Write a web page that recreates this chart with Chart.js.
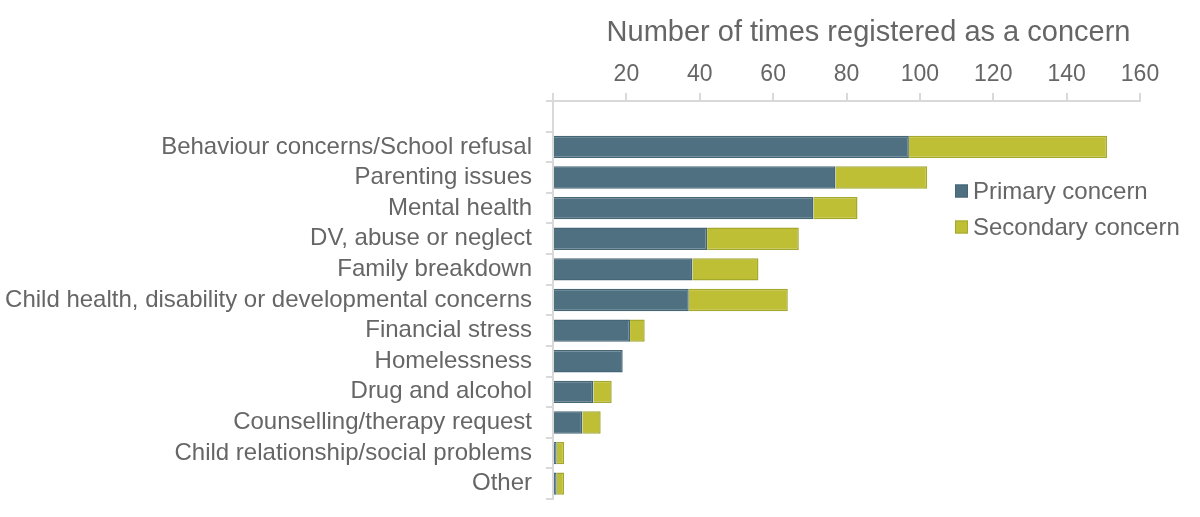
<!DOCTYPE html>
<html>
<head>
<meta charset="utf-8">
<script src="https://cdn.jsdelivr.net/npm/chart.js@4"></script>
<style>
  html, body { margin: 0; padding: 0; background: #fff; }
  #wrap { width: 1200px; height: 517px; }
</style>
</head>
<body>
<div id="wrap"><canvas id="concerns" width="1200" height="517"></canvas></div>
<script>
// blank first row keeps the empty band under the top axis, as in the original
const categories = [
  "",
  "Behaviour concerns/School refusal",
  "Parenting issues",
  "Mental health",
  "DV, abuse or neglect",
  "Family breakdown",
  "Child health, disability or developmental concerns",
  "Financial stress",
  "Homelessness",
  "Drug and alcohol",
  "Counselling/therapy request",
  "Child relationship/social problems",
  "Other"
];
const primaryConcern = [null, 97, 77, 71, 42, 38, 37, 21, 19, 11, 8, 1, 1];
const secondaryConcern = [null, 54, 25, 12, 25, 18, 27, 4, null, 5, 5, 2, 2];
const xTicks = [20, 40, 60, 80, 100, 120, 140, 160];
const titleText = "Number of times registered as a concern";

const TEXT = "#666666";
const AXIS = "#d9d9d9";
const FONT = "'Liberation Sans', Arial, sans-serif";

// title + legend drawn by hand so they sit where the original put them
const overlay = {
  id: "overlay",
  afterDraw(chart) {
    const { ctx, chartArea } = chart;
    ctx.save();
    ctx.fillStyle = TEXT;
    ctx.font = "29px " + FONT;
    ctx.textAlign = "center";
    ctx.textBaseline = "middle";
    ctx.fillText(titleText, (chartArea.left + chartArea.right) / 2 + 22, 33);

    ctx.font = "24px " + FONT;
    ctx.textAlign = "left";
    let ly = chartArea.top + 90;
    chart.data.datasets.forEach((ds) => {
      const lx = chartArea.left + 402;
      ctx.fillStyle = ds.backgroundColor;
      ctx.strokeStyle = ds.borderColor;
      ctx.lineWidth = 1;
      ctx.fillRect(lx, ly - 6.5, 13, 13);
      ctx.strokeRect(lx + 0.5, ly - 6, 12, 12);
      ctx.fillStyle = TEXT;
      ctx.fillText(ds.label, lx + 18, ly + 1);
      ly += 36;
    });
    ctx.restore();
  }
};

new Chart(document.getElementById("concerns"), {
  type: "bar",
  data: {
    labels: categories,
    datasets: [
      {
        label: "Primary concern",
        data: primaryConcern,
        backgroundColor: "#4e7080",
        borderColor: "#456676",
        borderWidth: 1.5
      },
      {
        label: "Secondary concern",
        data: secondaryConcern,
        backgroundColor: "#bfbf35",
        borderColor: "#a4a92c",
        borderWidth: 1.5
      }
    ]
  },
  options: {
    indexAxis: "y",
    responsive: false,
    animation: false,
    layout: { padding: { top: 0, right: 60, bottom: 18, left: 0 } },
    datasets: { bar: { barPercentage: 0.73, categoryPercentage: 1 } },
    plugins: {
      legend: { display: false },
      title: { display: false },
      tooltip: { enabled: false }
    },
    scales: {
      x: {
        position: "top",
        stacked: true,
        min: 0,
        max: 160,
        afterBuildTicks(scale) {
          scale.ticks = [0].concat(xTicks).map((v) => ({ value: v }));
        },
        afterFit(scale) { scale.height = 101; },
        ticks: {
          color: TEXT,
          font: { family: FONT, size: 23 },
          padding: 5,
          callback: (v) => (v === 0 ? "" : v)
        },
        grid: { drawOnChartArea: false, color: AXIS, lineWidth: 2, tickLength: 8 },
        border: { color: AXIS, width: 2 }
      },
      y: {
        stacked: true,
        afterFit(scale) {
          scale.width = 553;
          scale.paddingTop = 0;
          scale.paddingBottom = 0;
        },
        ticks: {
          color: TEXT,
          font: { family: FONT, size: 24 },
          padding: 14,
          autoSkip: false
        },
        grid: { drawOnChartArea: false, color: AXIS, lineWidth: 2, tickLength: 7, offset: true },
        border: { color: AXIS, width: 2 }
      }
    }
  },
  plugins: [overlay]
});
</script>
</body>
</html>
